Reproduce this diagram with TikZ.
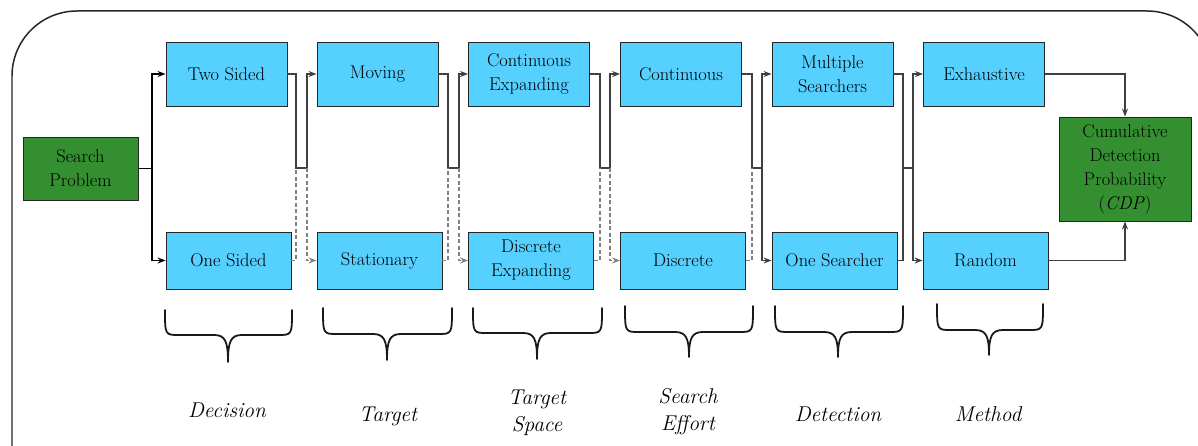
\documentclass[tikz,border=0pt]{standalone}
\usetikzlibrary{arrows.meta}
\definecolor{boxcyan}{RGB}{85,208,255}
\definecolor{boxgreen}{RGB}{52,143,48}
\tikzset{
  cbox/.style={draw=black!85, line width=0.9pt, fill=boxcyan, inner sep=1pt, align=center,
     font=\fontsize{18.5}{24}\selectfont},
  topbox/.style={cbox, minimum width=121bp, minimum height=64bp},
  botbox/.style={cbox, minimum width=125bp, minimum height=57bp},
  gbox/.style={cbox, fill=boxgreen},
  conn/.style={draw=black!75, line width=1.1pt},
  dconn/.style={draw=black!50, line width=1.2pt, dash pattern=on 4pt off 2.5pt},
  arr/.style={-{Stealth[length=8pt,width=6pt]}},
  brace/.style={draw=black!90, line width=1.8pt, line cap=round, line join=round},
  lab/.style={font=\fontsize{21.5}{27}\selectfont\itshape, align=center, inner sep=0pt},
  outer/.style={draw=black!85, line width=1.5pt, rounded corners=65bp}
}
\begin{document}
\begin{tikzpicture}[x=1bp, y=-1bp]
\clip (0,0) rectangle (1198,446);
\fill[white] (0,0) rectangle (1198,446);
\draw[outer] (12,11) rectangle (1212,530);

% boxes
\node[gbox, minimum width=115bp, minimum height=63bp] (sp) at (80.5,168.5) {Search\\Problem};
\node[topbox] (ts) at (226.5,74) {Two Sided};
\node[botbox] (os) at (228.5,260.5) {One Sided};
\node[topbox] (mv) at (377.5,74) {Moving};
\node[botbox] (st) at (379.5,260.5) {Stationary};
\node[topbox] (ce) at (529,74) {Continuous\\Expanding};
\node[botbox] (de) at (531,260.5) {Discrete\\Expanding};
\node[topbox] (co) at (681,74) {Continuous};
\node[botbox] (di) at (683,260.5) {Discrete};
\node[topbox] (ms) at (832.5,74) {Multiple\\Searchers};
\node[botbox] (on) at (834.5,260.5) {One Searcher};
\node[topbox] (ex) at (984,74) {Exhaustive};
\node[botbox] (rd) at (985.5,260.5) {Random};
\node[gbox, minimum width=132bp, minimum height=104bp] (cdp) at (1125,169) {Cumulative\\Detection\\Probability\\(\textit{CDP})};

% search problem split
\coordinate (j0) at (152,168.5);
\draw[conn, draw=black, line width=1.6pt, arr] (sp.east) -- (j0) |- (ts.west);
\draw[conn, draw=black, line width=1.6pt, arr] (j0) |- (os.west);

% gap 1
\coordinate (m1l) at (296,168); \coordinate (m1r) at (307,168);
\draw[conn, arr] (ts.east) -| (m1l) -- (m1r) |- (mv.west);
\draw[dconn] (os.east) -| (m1l);
\draw[dconn, arr] (m1r) |- (st.west);
% gap 2
\coordinate (m2l) at (448,168); \coordinate (m2r) at (459,168);
\draw[conn, arr] (mv.east) -| (m2l) -- (m2r) |- (ce.west);
\draw[dconn] (st.east) -| (m2l);
\draw[dconn, arr] (m2r) |- (de.west);
% gap 3
\coordinate (m3l) at (600,168); \coordinate (m3r) at (610,168);
\draw[conn, arr] (ce.east) -| (m3l) -- (m3r) |- (co.west);
\draw[dconn] (de.east) -| (m3l);
\draw[dconn, arr] (m3r) |- (di.west);
% gap 4
\coordinate (m4l) at (752,168); \coordinate (m4r) at (762,168);
\draw[conn, arr] (co.east) -| (m4l) -- (m4r) |- (ms.west);
\draw[dconn] (di.east) -| (m4l);
\draw[conn, arr] (m4r) |- (on.west);
% gap 5
\coordinate (m5l) at (903,168); \coordinate (m5r) at (913,168);
\draw[conn, arr] (ms.east) -| (m5l) -- (m5r) |- (ex.west);
\draw[conn] (on.east) -| (m5l);
\draw[conn, arr] (m5r) |- (rd.west);
% to CDP
\draw[conn, arr] (ex.east) -| (cdp.north);
\draw[conn, arr] (rd.east) -| (cdp.south);

% braces
\foreach \l/\r/\c/\t/\h/\b in {165/292/228/310/335/362, 323/452/387/308/334/360, 473/602/537/308/333/359, 625/753/689/306/332/357, 775/903/838/306/332/357, 937/1043/989/304/330/355}{
  \draw[brace] (\l,\t) .. controls (\l,\h) and (\l,\h) .. (\l+14,\h) -- (\c-14,\h)
     .. controls (\c-3,\h) and (\c,\h+6) .. (\c,\b)
     .. controls (\c,\h+6) and (\c+3,\h) .. (\c+14,\h) -- (\r-14,\h)
     .. controls (\r,\h) and (\r,\h) .. (\r,\t);
}

% labels
\node[lab] (l1) at (227,410) {Decision};
\node[lab] (l2) at (388,416) {Target};
\node[lab] (l3) at (537,413) {Target\\Space};
\node[lab] (l4) at (688,412) {Search\\Effort};
\node[lab] (l5) at (838,414) {Detection};
\node[lab] (l6) at (988,414) {Method};
\end{tikzpicture}
\end{document}
